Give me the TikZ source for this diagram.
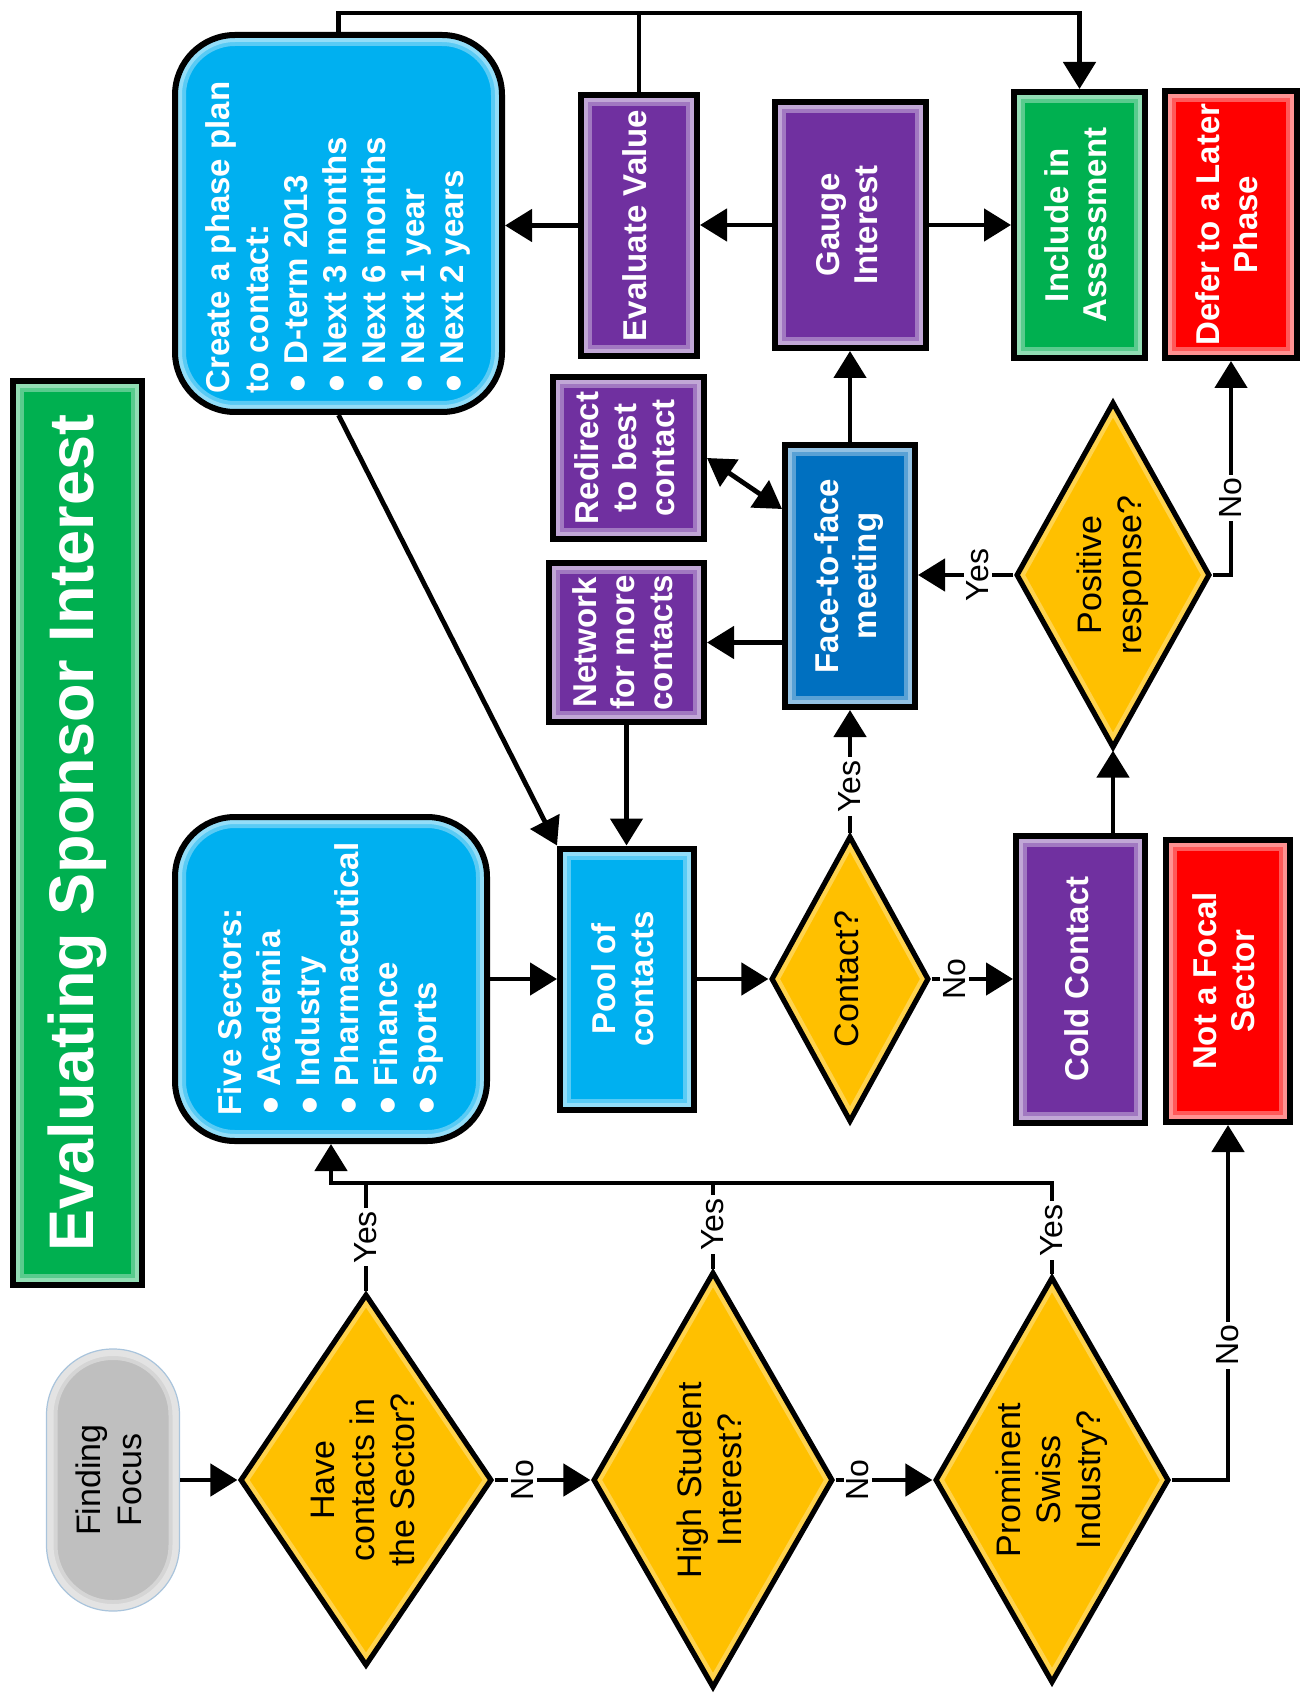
\documentclass[tikz,border=0pt]{standalone}
\usepackage{fontspec}
\setmainfont{Liberation Sans}
\usepackage{graphicx}
\usetikzlibrary{shapes.geometric,arrows.meta,calc}

\definecolor{flowpurple}{HTML}{7030A0}
\definecolor{flowcyan}{HTML}{00B0F0}
\definecolor{flowblue}{HTML}{0070C0}
\definecolor{flowgreen}{HTML}{00B050}
\definecolor{flowred}{HTML}{FF0000}
\definecolor{flowgold}{HTML}{FFC000}
\definecolor{flowgray}{HTML}{BFBFBF}
\definecolor{flowedge}{HTML}{A9C4DC}

% text turned a quarter turn, read from bottom to top
\newcommand{\rottext}[2][c]{\rotatebox{90}{\begin{tabular}{@{}#1@{}}#2\end{tabular}}}

\tikzset{
    glow/.style={postaction={draw=white,draw opacity=.35,line width=11pt},
                 postaction={draw=white,draw opacity=.35,line width=7pt}},
    box/.style={rectangle,fill=#1,glow,postaction={draw=black,line width=3pt},
                inner sep=0pt,outer sep=1.5pt,text=white,
                font=\fontsize{16.5}{19}\selectfont\bfseries},
    rbox/.style={box=flowcyan,rounded corners=30pt,
                 font=\fontsize{16.5}{19.5}\selectfont\bfseries},
    dmd/.style={diamond,fill=flowgold,
                postaction={draw=white,draw opacity=.3,line width=7pt},
                postaction={draw=black,line width=2.6pt},
                inner sep=0pt,outer sep=1.3pt,font=\fontsize{17}{20}\selectfont},
    term/.style={rectangle,rounded corners=33pt,fill=flowgray,glow,
                 postaction={draw=flowedge,line width=.6pt},
                 inner sep=0pt,font=\fontsize{17}{20}\selectfont},
    sz/.style 2 args={minimum width=#1pt,minimum height=#2pt},
    lbl/.style={rotate=90,fill=white,inner sep=1.5pt,font=\fontsize{16}{18}\selectfont},
    link/.style={line width=2.4pt},
    arr/.style={link,-{Triangle[length=13.5pt,width=16pt]}},
    arrs/.style={link,{Triangle[length=13.5pt,width=16pt]}-{Triangle[length=13.5pt,width=16pt]}}
}

\begin{document}
\begin{tikzpicture}[x=0.5pt,y=0.5pt,yscale=-1,xscale=1]
    \useasboundingbox (0,0) rectangle (1306,1700);

    % Title
    \node[box=flowgreen,sz={64.5}{452},font=\fontsize{31.5}{36}\selectfont\bfseries] (title) at (77.5,833)
        {\rotatebox{90}{Evaluating Sponsor Interest}};

    % Rounded boxes
    \node[rbox,sz={163.5}{188.5}] (plan) at (338.5,223.5)
        {\rotatebox{90}{\begin{tabular}{@{}l@{\hspace{14pt}}}Create a phase plan\\to contact:\\● D-term 2013\\● Next 3 months\\● Next 6 months\\● Next 1 year\\● Next 2 years\end{tabular}}};
    \node[rbox,sz={156}{162}] (sectors) at (331,979)
        {\rottext[l]{Five Sectors:\\● Academia\\● Industry\\● Pharmaceutical\\● Finance\\● Sports}};

    % Process boxes
    \node[box=flowpurple,sz={58}{130.5}] (evaluate) at (639,225.5) {\rottext{Evaluate Value}};
    \node[box=flowpurple,sz={75.5}{123}] (gauge) at (850.5,225) {\rottext{Gauge\\Interest}};
    \node[box=flowgreen,sz={65.5}{133}] (include) at (1079.5,225) {\rottext{Include in\\Assessment}};
    \node[box=flowred,sz={66}{133.5}] (defer) at (1231,224.5) {\rottext{Defer to a Later\\Phase}};
    \node[box=flowpurple,sz={75.5}{81}] (redirect) at (628.5,458) {\rottext{Redirect\\to best\\contact}};
    \node[box=flowpurple,sz={77.5}{79.5}] (network) at (626.5,642.5) {\rottext{Network\\for more\\contacts}};
    \node[box=flowblue,sz={65}{131}] (face) at (850,576) {\rottext{Face-to-face\\meeting}};
    \node[box=flowcyan,sz={67}{130.5}] (pool) at (627,979) {\rottext{Pool of\\contacts}};
    \node[box=flowpurple,sz={64.5}{143.5}] (cold) at (1080.5,979) {\rottext{Cold Contact}};
    \node[box=flowred,sz={62}{141}] (notfocal) at (1228,981) {\rottext{Not a Focal\\Sector}};

    % Start
    \node[term,sz={66.5}{131}] (focus) at (113,1480) {\rottext{Finding\\Focus}};

    % Decisions
    \node[dmd,sz={126}{186},shape aspect=.68] (d1) at (366,1480) {\rottext{Have\\contacts in\\the Sector?}};
    \node[dmd,sz={120}{208},shape aspect=.58] (d2) at (713,1480) {\rottext{High Student\\Interest?}};
    \node[dmd,sz={117}{203},shape aspect=.58] (d3) at (1052,1480) {\rottext{Prominent\\Swiss\\Industry?}};
    \node[dmd,sz={79}{143},shape aspect=.55] (contact) at (850,979) {\rottext{Contact?}};
    \node[dmd,sz={97}{173},shape aspect=.56] (positive) at (1113,575) {\rottext{Positive\\response?}};

    % Connectors
    \draw[arr] (focus.east) -- (d1.west);
    \draw[arr] (d1.east) -- node[lbl,pos=.29] (no1) {No} (d2.west);
    \draw[arr] (d2.east) -- node[lbl,pos=.23] (no2) {No} (d3.west);
    \draw[arr] (d3.east) -| node[lbl,pos=.69] (no3) {No} (notfocal.south);
    \coordinate (bus) at (331,1183);
    \draw[arr] (d3.north) |- node[lbl,pos=.24] (yes3) {Yes} (bus) -- (sectors.south);
    \draw[link] (d1.north) -- node[lbl,pos=.5] (yes1) {Yes} (d1.north |- bus);
    \draw[link] (d2.north) -- node[lbl,pos=.52] (yes2) {Yes} (d2.north |- bus);

    \draw[arr] (sectors.east) -- (pool.west |- sectors.east);
    \draw[arr] (plan.south) -- (pool.north west);
    \draw[arr] (network.south) -- (network.south |- pool.north);
    \draw[arr] (pool.east) -- (contact.west);
    \draw[arr] (contact.north) -- node[lbl,pos=.38] (yes4) {Yes} (face.south);
    \draw[arr] (contact.east) -- node[lbl,pos=.28] (no4) {No} (cold.west |- contact.east);
    \draw[arr] (positive.south |- cold.north) -- (positive.south);
    \draw[arr] (positive.west) -- node[lbl,pos=.37] (yes5) {Yes} (face.east |- positive.west);
    \draw[arr] (positive.east) -| node[lbl,pos=.68] (no5) {No} (defer.south);

    \draw[arr] (face.west |- network.east) -- (network.east);
    \draw[arrs] (redirect.east) -- ($(face.north west)!.25!(face.south west)$);
    \draw[arr] (face.north) -- (face.north |- gauge.south);
    \draw[arr] (gauge.west) -- (evaluate.east |- gauge.west);
    \draw[arr] (evaluate.west) -- (plan.east |- evaluate.west);
    \draw[arr] (gauge.east) -- (include.west |- gauge.east);
    \coordinate (topbus) at (338.5,13);
    \draw[arr] (plan.north) -- (topbus) -| (include.north);
    \draw[link] (evaluate.north) -- (evaluate.north |- topbus);
\end{tikzpicture}
\end{document}
